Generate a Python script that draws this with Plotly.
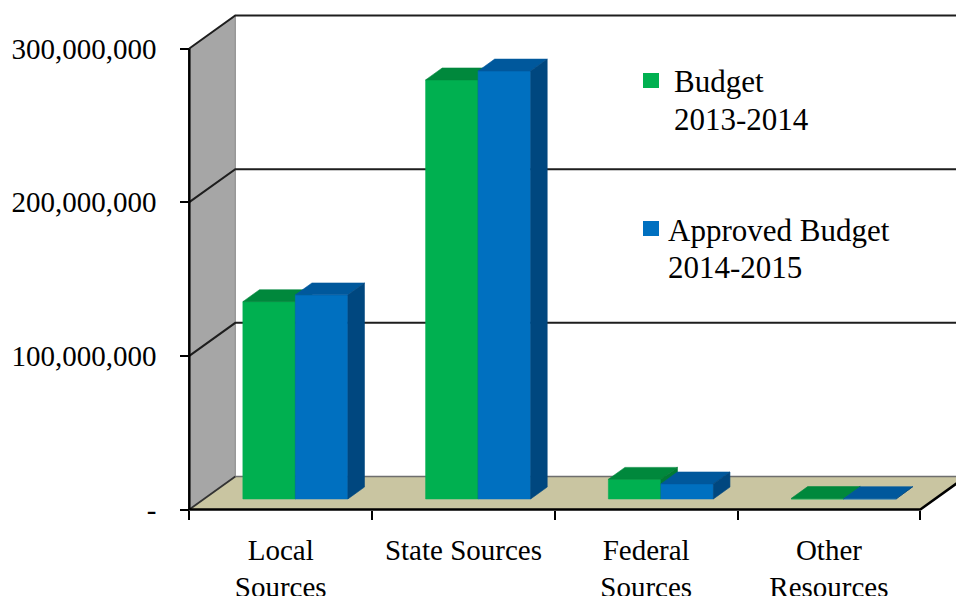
import plotly.graph_objects as go

# ---- data -------------------------------------------------------------
categories = ["Local<br>Sources", "State Sources", "Federal<br>Sources", "Other<br>Resources"]
budget_2013_14 = [128_400_000, 272_700_000, 12_800_000, 300_000]
approved_2014_15 = [132_800_000, 278_500_000, 9_800_000, 250_000]
series_labels = [["Budget", "2013-2014"], ["Approved Budget", "2014-2015"]]
ytick_vals = [0, 100_000_000, 200_000_000, 300_000_000]
ytick_text = ["-", "100,000,000", "200,000,000", "300,000,000"]

# ---- styling / geometry ----------------------------------------------
W, H = 956, 596
FONT = "Liberation Serif, Times New Roman, serif"
FRONT = ["#00B050", "#0070C0"]
TOP = ["#00883C", "#00589C"]
SIDE = ["#007A34", "#00477F"]
FLOOR = "#C9C5A1"
SIDE_WALL = "#A6A6A6"

X_RANGE = [-1.0358, 4.1953]          # category units across the figure width
Y_RANGE = [-56.29e6, 331.56e6]       # value units across the figure height
DX, DY = 0.2517, 21.475e6            # oblique offset of the full floor depth
D0, D1 = 0.32, 0.68                  # depth slab occupied by the bars
BAR_W = 0.2873                       # bar width in category units
AX_X = 189.3 / W                     # paper position of the front vertical edge
AX_Y = (H - 509.5) / H               # paper position of the front floor edge

n = len(categories)
top_val = ytick_vals[-1]


def proj(u, v, d):
    return u + d * DX, v + d * DY


def polygon(pts, color):
    xs, ys = zip(*[proj(*p) for p in pts])
    return go.Scatter(x=list(xs) + [xs[0]], y=list(ys) + [ys[0]], mode="lines",
                      fill="toself", fillcolor=color,
                      line=dict(color=color, width=0.6),
                      hoverinfo="skip", showlegend=False)


def polyline(pts, color, width):
    xs, ys = zip(*[proj(*p) for p in pts])
    return go.Scatter(x=list(xs), y=list(ys), mode="lines",
                      line=dict(color=color, width=width),
                      hoverinfo="skip", showlegend=False)


fig = go.Figure()

# walls and floor
fig.add_trace(polygon([(0, 0, 0), (n, 0, 0), (n, 0, 1), (0, 0, 1)], FLOOR))
fig.add_trace(polygon([(0, 0, 0), (0, 0, 1), (0, top_val, 1), (0, top_val, 0)], SIDE_WALL))
fig.add_trace(polyline([(0, 0, 1), (0, top_val, 1)], "#8C8C8C", 1))
fig.add_trace(polyline([(0, 0, 1), (n, 0, 1)], "#6E6E6E", 1.5))
fig.add_trace(polyline([(0, 0, 0), (0, 0, 1)], "#333333", 1.8))
for t in ytick_vals[1:]:
    fig.add_trace(polyline([(0, t, 0), (0, t, 1), (n, t, 1)], "#1E1E1E", 2))
fig.add_trace(polyline([(0, top_val, 0), (0, 0, 0), (n, 0, 0), (n, 0, 1)], "#000000", 2.5))

# 3-D bars: front, top and side faces, drawn left to right
for i in range(n):
    centre = i + 0.5
    for s, vals in enumerate([budget_2013_14, approved_2014_15]):
        v = vals[i]
        xl = centre - BAR_W + s * BAR_W
        xr = xl + BAR_W
        fig.add_trace(polygon([(xl, 0, D0), (xr, 0, D0), (xr, v, D0), (xl, v, D0)], FRONT[s]))
        fig.add_trace(polygon([(xl, v, D0), (xr, v, D0), (xr, v, D1), (xl, v, D1)], TOP[s]))
        fig.add_trace(polygon([(xr, 0, D0), (xr, 0, D1), (xr, v, D1), (xr, v, D0)], SIDE[s]))

# carrier for the category-label axis
fig.add_trace(go.Scatter(x=[None], y=[None], xaxis="x2", yaxis="y",
                         hoverinfo="skip", showlegend=False))

# legend: coloured squares with two-line labels
legend_sq_y = [(73, 88), (221, 236)]
legend_text = [[(672, 82), (672, 120)], [(666, 230), (666, 267)]]
for s in range(2):
    y0, y1 = legend_sq_y[s]
    fig.add_shape(type="rect", xref="paper", yref="paper",
                  x0=643 / W, x1=659 / W, y0=1 - y1 / H, y1=1 - y0 / H,
                  fillcolor=FRONT[s], line=dict(width=0))
    for text, (px, py) in zip(series_labels[s], legend_text[s]):
        fig.add_annotation(xref="paper", yref="paper", x=px / W, y=1 - py / H,
                           xanchor="left", yanchor="middle", showarrow=False,
                           text=text, font=dict(family=FONT, size=31, color="#000000"))

axis_common = dict(showgrid=False, zeroline=False, showline=False,
                   fixedrange=True, automargin=False)
fig.update_layout(
    width=W, height=H,
    margin=dict(l=0, r=0, t=0, b=0),
    paper_bgcolor="white", plot_bgcolor="white",
    showlegend=False,
    xaxis=dict(range=X_RANGE, domain=[0, 1], anchor="free", position=AX_Y,
               tickmode="array", tickvals=list(range(n + 1)), showticklabels=False,
               ticks="outside", ticklen=9, tickwidth=2, tickcolor="#000000",
               **axis_common),
    xaxis2=dict(range=X_RANGE, domain=[0, 1], overlaying="x", anchor="free",
                position=AX_Y, side="bottom",
                tickmode="array", tickvals=[i + 0.5 for i in range(n)],
                ticktext=categories, ticks="", ticklabelstandoff=20,
                tickfont=dict(family=FONT, size=29, color="#000000"),
                **axis_common),
    yaxis=dict(range=Y_RANGE, domain=[0, 1], anchor="free", position=AX_X,
               tickmode="array", tickvals=ytick_vals, ticktext=ytick_text,
               ticks="outside", ticklen=9, tickwidth=2, tickcolor="#000000",
               ticklabelstandoff=18,
               tickfont=dict(family=FONT, size=29, color="#000000"),
               **axis_common),
)

fig.write_html("out.html")
